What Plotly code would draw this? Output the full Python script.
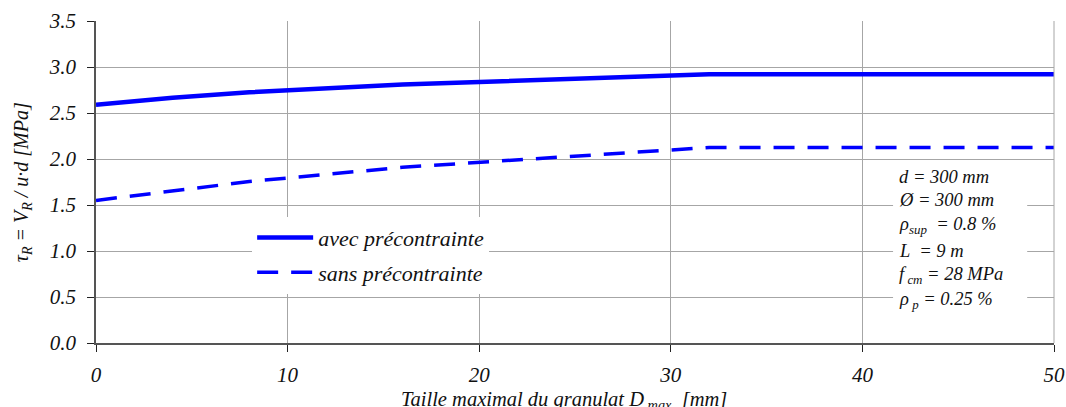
import plotly.graph_objects as go

# Data
dmax = [0, 4, 8, 16, 32, 50]
avec = [2.59, 2.665, 2.725, 2.81, 2.92, 2.92]
sans = [1.55, 1.655, 1.755, 1.91, 2.125, 2.125]
series_names = ["avec précontrainte", "sans précontrainte"]
x_ticks = [0, 10, 20, 30, 40, 50]
y_ticks = [0.0, 0.5, 1.0, 1.5, 2.0, 2.5, 3.0, 3.5]
params = [
    "d = 300 mm",
    "Ø = 300 mm",
    "ρ<sub>sup</sub>  = 0.8 %",
    "L  = 9 m",
    "f<sub> cm</sub> = 28 MPa",
    "ρ<sub> p</sub> = 0.25 %",
]

FONT = "Liberation Serif"
BLUE = "#0000ff"
GRID = "#a6a6a6"
TXT = "#111111"

fig = go.Figure()
fig.add_trace(go.Scatter(x=dmax, y=avec, mode="lines", name=series_names[0],
                         legendgroup="a",
                         line=dict(color=BLUE, width=4.5)))
fig.add_trace(go.Scatter(x=dmax, y=sans, mode="lines", name=series_names[1],
                         legendgroup="b",
                         line=dict(color=BLUE, width=3.5, dash="21px,13px")))

fig.update_layout(
    width=1066, height=407,
    margin=dict(l=96, r=12, t=21, b=64, autoexpand=False),
    plot_bgcolor="white", paper_bgcolor="white",
    font=dict(family=FONT, size=20, color=TXT, style="italic"),
    showlegend=True,
    legend=dict(x=0.163, y=0.392, xanchor="left", yanchor="top",
                bgcolor="white", borderwidth=0, itemwidth=56,
                tracegroupgap=3,
                font=dict(family=FONT, size=22, style="italic", color=TXT)),
)

fig.update_xaxes(range=[0, 50], tickvals=x_ticks, ticktext=[str(v) for v in x_ticks],
                 showgrid=True, gridcolor=GRID, gridwidth=1,
                 showline=True, linecolor="#555555", linewidth=1.5,
                 ticks="outside", ticklen=7, tickcolor="#222222",
                 ticklabelstandoff=5, zeroline=False, mirror=False, automargin=False,
                 tickfont=dict(family=FONT, size=21, style="italic", color=TXT))
fig.update_yaxes(range=[0, 3.5], tickvals=y_ticks, tickformat=".1f",
                 showgrid=True, gridcolor=GRID, gridwidth=1,
                 showline=True, linecolor="#555555", linewidth=1.5,
                 ticks="outside", ticklen=7, tickcolor="#222222",
                 ticklabelstandoff=7, zeroline=False, automargin=False,
                 tickfont=dict(family=FONT, size=21, style="italic", color=TXT))

# right border (gray) of plot area
fig.add_shape(type="line", xref="paper", yref="paper", x0=1, x1=1, y0=0, y1=1,
              line=dict(color=GRID, width=1))

# white box behind parameter text
fig.add_shape(type="rect", xref="x", yref="y", x0=41.6, x1=48.6, y0=0.26, y1=1.92,
              fillcolor="white", line=dict(width=0), layer="between")

ys = [1.80, 1.55, 1.28, 1.0, 0.73, 0.46]
for t, yv in zip(params, ys):
    fig.add_annotation(x=41.8, y=yv, xref="x", yref="y", text=t, showarrow=False,
                       xanchor="left", yanchor="middle",
                       font=dict(family=FONT, size=18.5, style="italic", color=TXT))

# axis titles
fig.add_annotation(xref="paper", yref="paper", x=0.489, y=-0.178,
                   text="Taille maximal du granulat D<sub> max</sub>  [mm]",
                   showarrow=False, xanchor="center", yanchor="middle",
                   font=dict(family=FONT, size=20.5, style="italic", color=TXT))
fig.add_annotation(xref="paper", yref="paper", x=-0.077, y=0.5, textangle=-90,
                   text="τ<sub>R</sub> = V<sub>R</sub> / u·d [MPa]",
                   showarrow=False, xanchor="center", yanchor="middle",
                   font=dict(family=FONT, size=20, style="italic", color=TXT))

fig.write_html("out.html", config={"displayModeBar": False},
               post_script="document.body.style.margin='0';document.body.style.padding='0';")
